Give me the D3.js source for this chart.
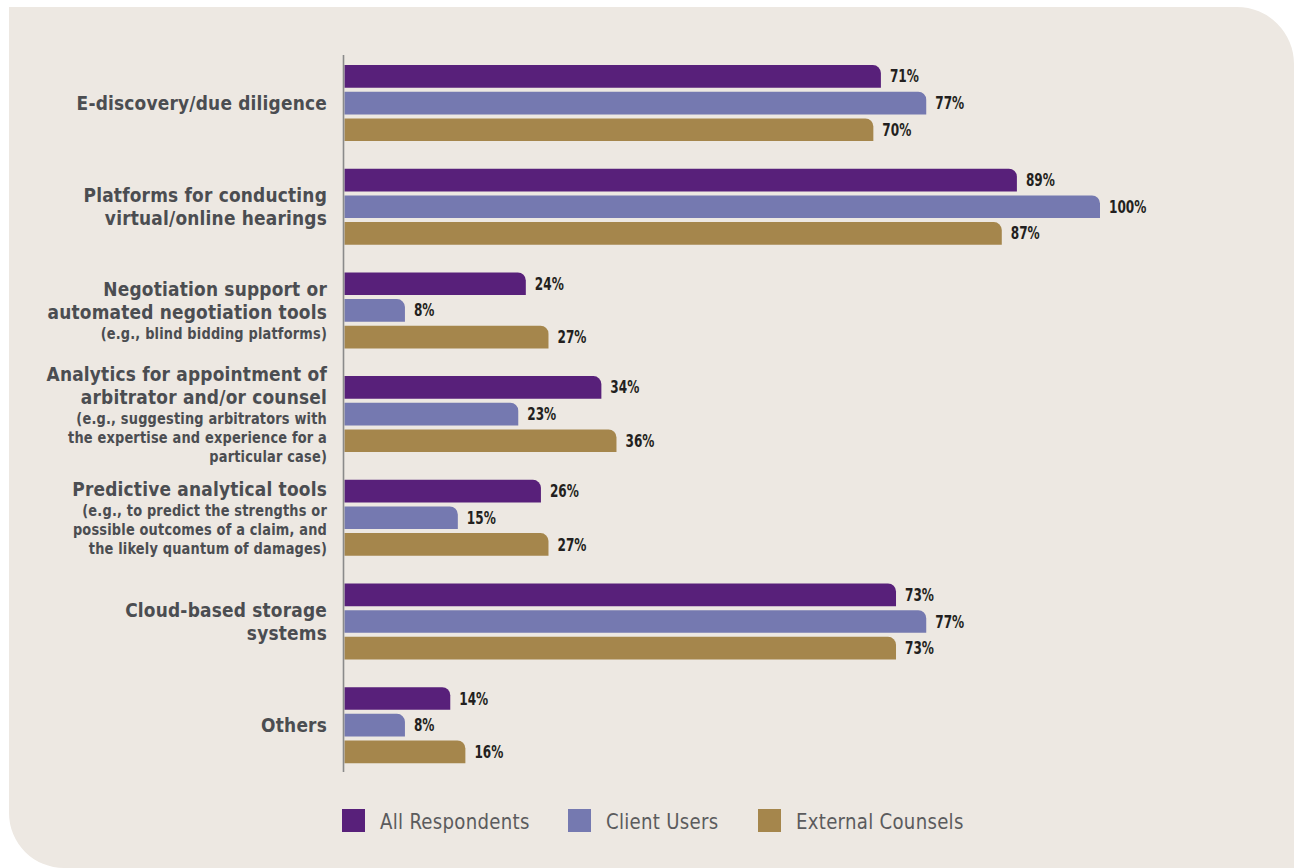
<!DOCTYPE html>
<html>
<head>
<meta charset="utf-8">
<script src="https://cdn.jsdelivr.net/npm/d3@7"></script>
<style>
  html, body { margin: 0; padding: 0; background: #ffffff; }
  svg { display: block; }
</style>
</head>
<body>
<svg id="chart" width="1300" height="868"></svg>
<script>
// Survey categories (main title lines + smaller explanatory lines)
const categories = [
  "E-discovery/due diligence",
  "Platforms for conducting virtual/online hearings",
  "Negotiation support or automated negotiation tools",
  "Analytics for appointment of arbitrator and/or counsel",
  "Predictive analytical tools",
  "Cloud-based storage systems",
  "Others"
];
const titleLines = [
  ["E-discovery/due diligence"],
  ["Platforms for conducting", "virtual/online hearings"],
  ["Negotiation support or", "automated negotiation tools"],
  ["Analytics for appointment of", "arbitrator and/or counsel"],
  ["Predictive analytical tools"],
  ["Cloud-based storage", "systems"],
  ["Others"]
];
const noteLines = [
  [],
  [],
  ["(e.g., blind bidding platforms)"],
  ["(e.g., suggesting arbitrators with", "the expertise and experience for a", "particular case)"],
  ["(e.g., to predict the strengths or", "possible outcomes of a claim, and", "the likely quantum of damages)"],
  [],
  []
];

const seriesNames = ["All Respondents", "Client Users", "External Counsels"];
const allRespondents  = [71, 89, 24, 34, 26, 73, 14];
const clientUsers     = [77, 100, 8, 23, 15, 77, 8];
const externalCounsels = [70, 87, 27, 36, 27, 73, 16];
const seriesValues = [allRespondents, clientUsers, externalCounsels];
const seriesColors = ["#58207a", "#7579b0", "#a5864c"];

const svg = d3.select("#chart");
const labelFont = "'Liberation Sans Narrow', 'DejaVu Sans Condensed', 'Arial Narrow', sans-serif";

// Background panel: square top-left, rounded top-right and bottom-left
const px0 = 9, py0 = 7, px1 = 1294, py1 = 868, rTR = 57, rBL = 55;
const panel = d3.path();
panel.moveTo(px0, py0);
panel.lineTo(px1 - rTR, py0);
panel.arcTo(px1, py0, px1, py0 + rTR, rTR);
panel.lineTo(px1, py1 + 20);
panel.lineTo(px0 + rBL, py1 + 20);
panel.lineTo(px0 + rBL, py1);
panel.arcTo(px0, py1, px0, py1 - rBL, rBL);
panel.closePath();
svg.append("path").attr("d", panel.toString()).attr("fill", "#ede8e2");

// Scales
const x = d3.scaleLinear().domain([0, 100]).range([344.5, 1100]);
const y = d3.scaleBand().domain(categories).range([51.2, 777]).paddingInner(0.267).paddingOuter(0.1335);
const ySub = d3.scaleBand().domain(seriesNames).range([0, y.bandwidth()]).paddingInner(0.15).paddingOuter(0);

// Bar shape with a rounded top-right corner
function barPath(x0, x1, y0, h) {
  const r = Math.min(8, x1 - x0, h);
  const p = d3.path();
  p.moveTo(x0, y0 + h);
  p.lineTo(x0, y0);
  p.lineTo(x1 - r, y0);
  p.arcTo(x1, y0, x1, y0 + r, r);
  p.lineTo(x1, y0 + h);
  p.closePath();
  return p.toString();
}

const groups = svg.append("g").selectAll("g")
  .data(categories)
  .join("g")
  .attr("transform", d => `translate(0,${y(d)})`);

seriesNames.forEach((s, si) => {
  groups.append("path")
    .attr("d", (d, i) => barPath(x(0), x(seriesValues[si][i]), ySub(s), ySub.bandwidth()))
    .attr("fill", seriesColors[si]);
  groups.append("text")
    .attr("transform", (d, i) =>
      `translate(${x(seriesValues[si][i]) + 9},${ySub(s) + ySub.bandwidth() / 2}) scale(0.84,1.05)`)
    .attr("dy", "0.36em")
    .attr("font-family", labelFont)
    .attr("font-weight", "bold")
    .attr("font-size", 16)
    .attr("fill", "#231f20")
    .text((d, i) => seriesValues[si][i] + "%");
});

// Axis line
svg.append("line")
  .attr("x1", 343.5).attr("x2", 343.5)
  .attr("y1", 55).attr("y2", 772)
  .attr("stroke", "#8a8a8a").attr("stroke-width", 1.6);

// Category labels, right aligned, block centered on each group
const mainSize = 19.5, noteSize = 16, mainGap = 23, noteGap = 19, mainToNote = 20;
const mainSqueeze = 0.97, noteSqueeze = 0.9;
categories.forEach((c, i) => {
  const lines = [];
  titleLines[i].forEach((t, k) => lines.push({ t, main: true, step: k === 0 ? 0 : mainGap }));
  noteLines[i].forEach((t, k) => lines.push({ t, main: false, step: k === 0 ? mainToNote : noteGap }));
  let acc = 0;
  lines.forEach(l => { acc += l.step; l.pos = acc; });
  const total = acc;
  const center = y(c) + y.bandwidth() / 2;
  const firstBase = center - total / 2 + 0.36 * mainSize;
  const g = svg.append("g");
  lines.forEach(l => {
    g.append("text")
      .attr("transform", `translate(327,${firstBase + l.pos}) scale(${l.main ? mainSqueeze : noteSqueeze},1)`)
      .attr("text-anchor", "end")
      .attr("font-family", labelFont)
      .attr("font-weight", "bold")
      .attr("font-size", l.main ? mainSize : noteSize)
      .attr("letter-spacing", 0.2)
      .attr("fill", "#4b4d51")
      .text(l.t);
  });
});

// Legend
const legendX = [342, 568, 758];
const legend = svg.append("g").selectAll("g")
  .data(seriesNames)
  .join("g")
  .attr("transform", (d, i) => `translate(${legendX[i]},809)`);
legend.append("rect")
  .attr("width", 23).attr("height", 23)
  .attr("fill", (d, i) => seriesColors[i]);
legend.append("text")
  .attr("transform", "translate(38,20) scale(0.96,1)")
  .attr("font-family", labelFont)
  .attr("font-size", 21)
  .attr("letter-spacing", 0.3)
  .attr("fill", "#5b5b5d")
  .text(d => d);
</script>
</body>
</html>
